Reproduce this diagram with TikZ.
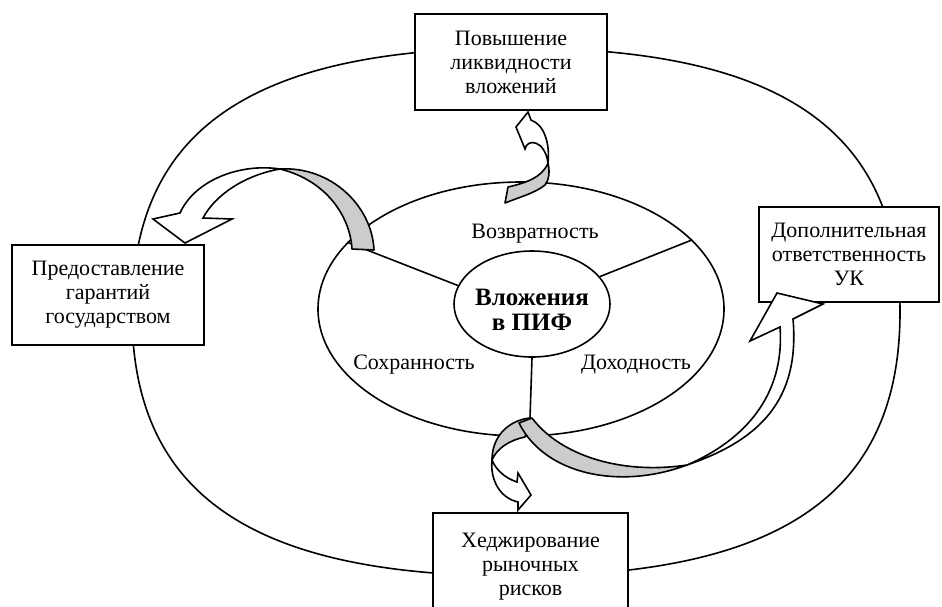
\documentclass[tikz,border=0pt]{standalone}
\usepackage{fontspec}
\setmainfont{Liberation Serif}
\usetikzlibrary{shapes.geometric}
\definecolor{backgray}{RGB}{204,204,204}
\tikzset{goalbox/.style={draw,fill=white,align=center,inner sep=0pt}}
\tikzset{backside/.style={draw,fill=backgray,line join=round}}
\tikzset{frontside/.style={draw,fill=white,line join=miter}}

\begin{document}
\begin{tikzpicture}[x=0.5pt,y=-0.5pt,line width=0.8pt,font=\fontsize{11}{12}\selectfont]
    		\useasboundingbox (0,0) rectangle (942,606);
    		% outer loop
    		\draw (900,312) .. controls (900,130) and (781,48) .. (516,48)
    			.. controls (251,48) and (132,130) .. (132,312)
    			.. controls (132,494) and (251,576) .. (516,576)
    			.. controls (781,576) and (900,494) .. (900,312) -- cycle;
    		\node (ring) [draw,ellipse,inner sep=0pt,minimum width=203pt,minimum height=127pt] at (521,309) {};
    		\node (core) [draw,ellipse,inner sep=0pt,minimum width=78pt,minimum height=53pt] at (532,304) {};
    		\node (coretxt) [font=\fontsize{12.5}{12.5}\selectfont\bfseries,align=center] at (532,310) {Вложения\\в ПИФ};
    		\coordinate (tail) at (530,418);
    		\draw (ring.159) -- (core.166);
    		\draw (ring.22) -- (core.22);
    		\draw (core.south) -- (tail);
    		\foreach \i/\x/\y/\descr in {1/535/234/Возвратность,2/414/365/Сохранность,3/636/365/Доходность}
        	{
        		\node (prop\i) at (\x,\y) {\descr};
        	}
    		% outer boxes
    		\node (liq) [goalbox,minimum width=96pt,minimum height=48pt,text width=94pt] at (511,62) {Повышение\\ликвидности\\вложений};
    		\node (guar) [goalbox,minimum width=96pt,minimum height=50pt,text width=94pt] at (108,295) {Предоставление\\гарантий\\государством};
    		\node (resp) [goalbox,minimum width=90pt,minimum height=47.5pt,text width=88pt] at (849,254.5) {Дополнительная\\ответственность\\УК};
    		\node (hedge) [goalbox,minimum width=97.5pt,minimum height=54pt,text width=95pt] at (530.5,567) {Хеджирование\\рыночных\\рисков};
    		% curved arrows
    		\draw [backside] (508,187) .. controls (525,183) and (542,178) .. (548,163)
    			.. controls (550,172) and (549,180) .. (545,185)
    			.. controls (535,193) and (520,197) .. (505,203) -- cycle;
    		\draw [frontside] (548,163) .. controls (550,145) and (545,125) .. (531,120)
    			-- (528,112) -- (516,127) -- (525,149)
    			.. controls (527,138) and (545,140) .. (548,163) -- cycle;
    		\draw [backside] (280,169) .. controls (330,166) and (372,205) .. (374,250) -- (352,249)
    			.. controls (350,215) and (325,180) .. (280,169) -- cycle;
    		\draw [frontside] (280,169) .. controls (240,163) and (195,180) .. (180,213)
    			-- (153,219) -- (185,243) -- (232,219) -- (203,218)
    			.. controls (215,195) and (245,175) .. (280,169) -- cycle;
    		\draw [backside] (tail) .. controls (510,420) and (492,435) .. (492,460)
    			.. controls (497,448) and (510,440) .. (525,437) -- cycle;
    		\draw [frontside] (492,460) .. controls (490,480) and (500,498) .. (518,502)
    			-- (518,510) -- (531,495) -- (518,473) -- (517,482)
    			.. controls (505,478) and (496,470) .. (492,460) -- cycle;
    		\draw [backside] (519,423) -- (532,418) .. controls (560,455) and (620,475) .. (687,465)
    			.. controls (620,490) and (545,475) .. (519,423) -- cycle;
    		\draw [frontside] (687,465) .. controls (760,440) and (800,400) .. (793,319)
    			-- (823,304) -- (777,293) -- (750,341) -- (780,327)
    			.. controls (785,395) and (745,440) .. (687,465) -- cycle;
		\end{tikzpicture}
\end{document}
